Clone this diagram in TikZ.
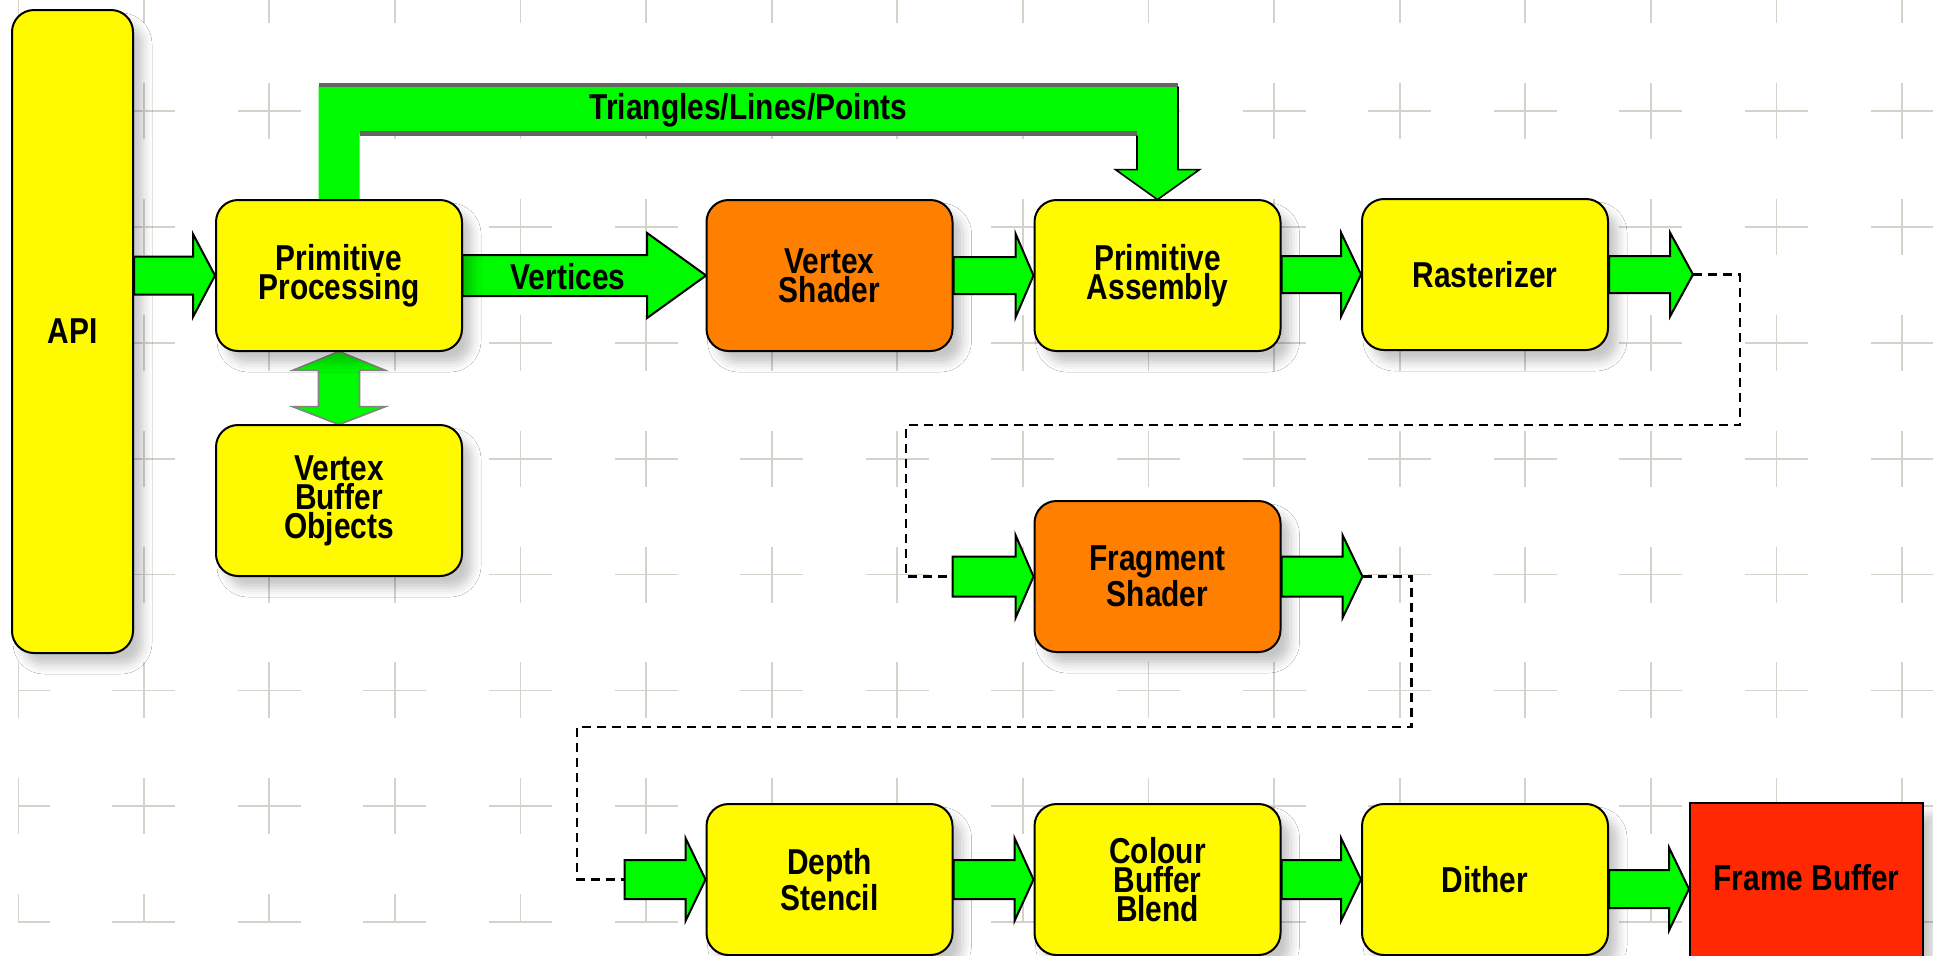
\documentclass[tikz,border=0pt]{standalone}
\usepackage{fontspec}
\newfontfamily\labfont{Liberation Sans}[FakeStretch=0.83]
\usetikzlibrary{calc,shadows.blur}
\definecolor{byellow}{RGB}{255,250,0}
\definecolor{borange}{RGB}{255,127,0}
\definecolor{bred}{RGB}{255,40,0}
\definecolor{bgreen}{RGB}{0,250,0}
\definecolor{gridgray}{RGB}{214,210,202}
\definecolor{edgegray}{RGB}{100,100,96}
\newcommand\labf{\labfont\bfseries\fontsize{18}{14.5}\selectfont}
% #2 start (x used), #3 tip, #4 shaft half, #5 head half, #6 head length
\newcommand\blockarrow[6][]{%
  \draw[barrow,#1] let \p1=(#2), \p2=(#3) in
    (\x1,\y2+#4) -- (\x2-#6,\y2+#4) -- (\x2-#6,\y2+#5) -- (\x2,\y2)
    -- (\x2-#6,\y2-#5) -- (\x2-#6,\y2-#4) -- (\x1,\y2-#4) -- cycle;}
\tikzset{
  gridc/.style={draw=gridgray,line width=0.9pt},
  shad/.style={blur shadow={shadow xshift=5pt,shadow yshift=-6pt,shadow blur radius=4.5pt,shadow opacity=22}},
  box/.style={draw=black,line width=1pt,rounded corners=11pt,fill=byellow,
    minimum width=123pt,minimum height=75.5pt,align=center,font=\labf,inner sep=0pt,shad},
  obox/.style={box,fill=borange},
  barrow/.style={draw=black,line width=1pt,fill=bgreen,line join=miter},
  darrow/.style={draw=edgegray!80,line width=0.8pt,fill=bgreen},
  dline/.style={draw=black,line width=1.3pt,dash pattern=on 4.5pt off 3pt},
  lab/.style={font=\labf,align=center,inner sep=0pt},
}
\begin{document}
\begin{tikzpicture}[x=0.5pt,y=-0.5pt]
\useasboundingbox (0,0) rectangle (1933,955);
\fill[white] (0,0) rectangle (1933,955);
% background grid of crosses
\begin{scope}
\clip (18,-40) rectangle (1980,922);
\foreach \i in {0,...,15}{
  \foreach \j in {0,...,8}{
    \draw[gridc] ({18+125.6*\i-31.5},{-5+115.9*\j}) -- ++(63,0)
                 ({18+125.6*\i},{-5+115.9*\j-28}) -- ++(0,56);
  }
}
\end{scope}
% placeholder frames for geometry of arrows drawn under the boxes
\path (339,275.5) node[minimum width=123pt,minimum height=75.5pt,inner sep=0pt] (pp0) {};
\path (829.5,275.5) node[minimum width=123pt,minimum height=75.5pt,inner sep=0pt] (vs0) {};
\path (1157.5,275.5) node[minimum width=123pt,minimum height=75.5pt,inner sep=0pt] (pa0) {};
\path (339,500.5) node[minimum width=123pt,minimum height=75.5pt,inner sep=0pt] (vbo0) {};
% Triangles/Lines/Points bent arrow
\fill[bgreen] let \p1=(pp0.north), \p2=(pa0.north) in
  (\x1-10.25pt,\y1) -- (\x1-10.25pt,\y1+57pt) -- (\x2+10.25pt,\y1+57pt)
  -- (\x2+10.25pt,\y2+15pt) -- (\x2+21pt,\y2+15pt) -- (\x2,\y2)
  -- (\x2-21pt,\y2+15pt) -- (\x2-10.25pt,\y2+15pt) -- (\x2-10.25pt,\y1+33pt)
  -- (\x1+10.25pt,\y1+33pt) -- (\x1+10.25pt,\y1) -- cycle;
\draw[edgegray,line width=2pt] let \p1=(pp0.north), \p2=(pa0.north) in
  (\x1-10.25pt,\y1+57.5pt) -- (\x2+10.25pt,\y1+57.5pt);
\draw[edgegray,line width=2.2pt] let \p1=(pp0.north), \p2=(pa0.north) in
  (\x1+10.25pt,\y1+33pt) -- (\x2-10.25pt,\y1+33pt);
\draw[black,line width=0.8pt,line join=miter] let \p1=(pp0.north), \p2=(pa0.north) in
  (\x2+10.25pt,\y1+56.5pt) -- (\x2+10.25pt,\y2+15pt) -- (\x2+21pt,\y2+15pt) -- (\x2,\y2)
  -- (\x2-21pt,\y2+15pt) -- (\x2-10.25pt,\y2+15pt) -- (\x2-10.25pt,\y1+32pt);
\node[lab] (tlp) at ($($(pp0.north)!0.5!(pa0.north)$)+(0,-89)$) {Triangles/Lines/Points};
% Vertices arrow
\blockarrow{pp0.east}{vs0.west}{10.25pt}{21.25pt}{29.5pt}
\node[lab] (vtx) at (568,277) {Vertices};
% double arrow between PP and VBO
\draw[darrow] let \p1=(pp0.south), \p2=(vbo0.north) in
  (\x1,\y1) -- (\x1+23.25pt,\y1-9.5pt) -- (\x1+10.25pt,\y1-9.5pt) -- (\x1+10.25pt,\y2+9pt)
  -- (\x1+23.25pt,\y2+9pt) -- (\x2,\y2) -- (\x1-23.25pt,\y2+9pt) -- (\x1-10.25pt,\y2+9pt)
  -- (\x1-10.25pt,\y1-9.5pt) -- (\x1-23.25pt,\y1-9.5pt) -- cycle;
% boxes
\node[box,minimum width=60.5pt,minimum height=321.5pt] (api) at (72.5,331.5) {API};
\node[box] (pp)  at (339,275.5) {Primitive\\Processing};
\node[box] (vbo) at (339,500.5) {Vertex\\Buffer\\Objects};
\node[obox] (vs) at (829.5,275.5) {Vertex\\Shader};
\node[box] (pa)  at (1157.5,275.5) {Primitive\\Assembly};
\node[box] (ras) at (1485,274.5) {Rasterizer};
\node[obox] (fs) at (1157.5,576.5) {Fragment\\Shader};
\node[box] (ds)  at (829.5,879.5) {Depth\\Stencil};
\node[box] (cbb) at (1157.5,879.5) {Colour\\Buffer\\Blend};
\node[box] (dit) at (1485,879.5) {Dither};
\node[draw=black,line width=1pt,fill=bred,minimum width=116.5pt,minimum height=86pt,inner sep=0pt,shad] (fb) at (1806.5,889) {};
\node[lab] (fbt) at (1806.5,878) {Frame Buffer};
% connector coordinates
\coordinate (rasout) at ([xshift=42pt]ras.east);
\coordinate (fsin) at ([xshift=-40.5pt]fs.west);
\coordinate (fsout) at ([xshift=40.5pt]fs.east);
\coordinate (dsin) at ([xshift=-40.5pt]ds.west);
% block arrows
\blockarrow{api.east}{pp.west}{9.5pt}{20.75pt}{11pt}
\blockarrow{vs.east}{pa.west}{9.25pt}{21pt}{9pt}
\blockarrow{pa.east}{ras.west}{9.25pt}{21pt}{10pt}
\blockarrow{ras.east}{rasout}{9.25pt}{21pt}{11.5pt}
\blockarrow{fsin}{fs.west}{10pt}{20.75pt}{9pt}
\blockarrow{fs.east}{fsout}{10pt}{20.75pt}{10pt}
\blockarrow{dsin}{ds.west}{9.75pt}{20.75pt}{10pt}
\blockarrow{ds.east}{cbb.west}{9.75pt}{20.75pt}{9.5pt}
\blockarrow{cbb.east}{dit.west}{9.75pt}{20.75pt}{10pt}
\blockarrow{dit.east}{fb.west}{9.5pt}{20.75pt}{10pt}
% dashed connectors
\draw[dline] (rasout) -- ++(47,0) |- (906,425) |- (fsin);
\draw[dline] (fsout) -- ++(49,0) |- (577,727) |- (dsin);
\end{tikzpicture}
\end{document}
